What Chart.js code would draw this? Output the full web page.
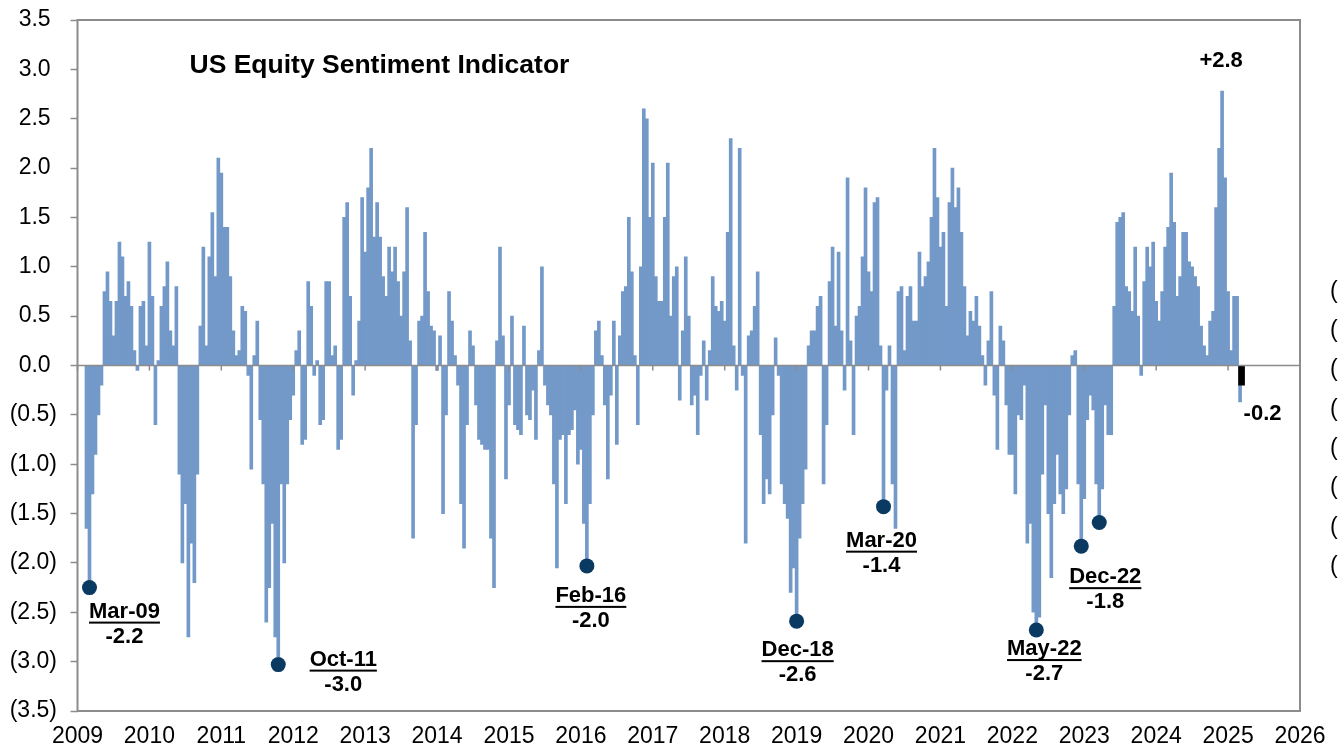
<!DOCTYPE html>
<html>
<head>
<meta charset="utf-8">
<title>US Equity Sentiment Indicator</title>
<script src="https://cdn.jsdelivr.net/npm/chart.js@4.4.1/dist/chart.umd.min.js"></script>
<style>
  html, body { margin: 0; padding: 0; background: #fff; }
  #wrap { width: 1338px; height: 750px; position: relative; }
</style>
</head>
<body>
<div id="wrap"><canvas id="chart"></canvas></div>
<script>
// indicator readings, two per month (1st half / 2nd half), one array per year
const v2009 = [null, null, null, -1.65, -2.2, -1.3, -0.9, -0.5, -0.2, 0.75, 0.95, 0.65, 0.3, 0.65, 1.25, 1.1, 0.7, 0.85, 0.6, 0.15, -0.05, 0.6, 0.65, 0.2];
const v2010 = [1.25, 0.7, -0.6, 0.05, 0.6, 0.8, 1.05, 0.35, 0.2, 0.8, -1.1, -2.0, -1.4, -2.75, -1.8, -2.2, -1.1, 0.4, 1.2, 0.2, 1.1, 1.55, 0.9, 2.1];
const v2011 = [1.95, 1.4, 1.4, 0.9, 0.35, 0.1, 0.15, 0.6, 0.55, -0.1, -1.05, 0.1, 0.45, -0.55, -1.2, -2.6, -2.25, -1.6, -2.75, -2.95, -1.2, -2.0, -1.2, -0.55];
const v2012 = [-0.3, 0.15, 0.35, -0.8, -0.75, 0.85, 0.6, -0.1, 0.05, -0.6, -0.55, 0.85, 0.85, 0.1, 0.2, -0.85, -0.75, 1.5, 1.65, 0.7, -0.3, 0.05, 0.45, 1.7];
const v2013 = [1.15, 1.8, 2.2, 1.3, 1.65, 1.3, 0.9, 0.7, 1.2, 0.95, 1.2, 0.85, 0.5, 0.95, 1.6, 0.25, -1.75, -0.6, 0.45, 0.5, 1.35, 0.75, 0.4, 0.35];
const v2014 = [-0.05, 0.3, -1.5, -0.5, 0.75, 0.45, 0.1, -0.2, -1.4, -1.85, -0.6, 0.35, 0.2, -0.4, -0.75, -0.8, -0.85, -0.85, -1.75, -2.25, 0.25, 1.2, 0.3, -1.15];
const v2015 = [-0.4, 0.5, -0.6, -0.65, -0.7, 0.4, -0.5, -0.55, -0.25, -0.75, 0.15, 1.0, -0.2, -0.4, -0.5, -1.2, -2.05, -0.75, -0.7, -1.4, -0.7, -0.65, -0.45, -1.0];
const v2016 = [-0.85, -1.6, -2.0, -1.4, -0.5, 0.35, 0.45, 0.1, -0.4, -1.15, -0.3, 0.45, -0.8, 0.3, 0.75, 0.8, 1.5, 0.95, 0.1, -0.6, 1.0, 2.6, 2.5, 1.5];
const v2017 = [2.05, 0.9, 0.65, 0.65, 1.5, 2.05, 0.5, 0.9, 1.0, -0.35, 0.35, 1.1, 0.5, -0.4, -0.3, -0.7, -0.1, 0.25, -0.35, 0.15, 0.9, 0.6, 0.55, 0.65];
const v2018 = [0.45, 1.35, 2.3, 0.2, -0.25, 2.2, -0.1, -1.8, 0.3, 0.35, 0.6, 0.95, -0.7, -1.4, -1.15, -1.3, -0.5, 0.28, -0.1, -1.2, -1.4, -1.55, -2.3, -2.05];
const v2019 = [-2.55, -1.75, -1.4, -1.05, 0.2, 0.35, 0.35, 0.6, 0.7, -1.2, -0.6, 0.85, 1.2, 0.4, 1.15, 0.35, -0.25, 1.9, 0.25, -0.7, 0.5, 0.6, 1.1, 1.8];
const v2020 = [0.95, 0.75, 1.65, 1.7, 0.2, -1.4, -0.25, 0.2, -1.2, -1.65, 0.75, 0.8, 0.15, 0.7, 0.8, 0.45, 0.45, 1.15, 0.8, 0.9, 1.05, 1.5, 2.2, 1.7];
const v2021 = [1.2, 1.35, 0.6, 1.65, 2.0, 1.6, 1.8, 1.35, 0.8, 0.3, 0.55, 0.45, 0.7, 0.4, 0.1, -0.2, 0.25, 0.75, -0.3, -0.85, 0.4, 0.25, -0.4, -0.9];
const v2022 = [-0.9, -1.3, -0.5, -0.55, -0.2, -1.8, -1.6, -2.5, -2.65, -2.55, -1.1, -0.4, -1.5, -2.15, -1.4, -0.9, -1.3, -1.5, -1.25, -0.5, 0.1, 0.15, -1.2, -1.8];
const v2023 = [-1.35, -0.55, -0.3, -0.45, -1.2, -1.55, -1.25, -0.4, -0.7, -0.7, 0.6, 1.45, 1.5, 1.55, 0.8, 0.75, 0.55, 1.2, 0.5, -0.1, 0.85, 1.2, 1.0, 1.25];
const v2024 = [0.65, 0.45, 0.75, 1.2, 1.4, 1.95, 1.45, 0.7, 0.9, 1.35, 1.35, 1.05, 1.0, 0.9, 0.8, 0.4, 0.2, 0.1, 0.45, 0.55, 1.6, 2.2, 2.78, 1.9];
const v2025 = [0.75, 0.15, 0.7, 0.7, -0.37];

const YEARS = [2009, 2010, 2011, 2012, 2013, 2014, 2015, 2016, 2017, 2018, 2019, 2020, 2021, 2022, 2023, 2024, 2025];
const YEAR_VALUES = [v2009, v2010, v2011, v2012, v2013, v2014, v2015, v2016, v2017, v2018, v2019, v2020, v2021, v2022, v2023, v2024, v2025];

// latest reading, highlighted in black
const LATEST_DATE = 2025 + 4.5 / 24;
const LATEST_VALUE = -0.2;
const PEAK_LABEL = '+2.8';
const LATEST_LABEL = '-0.2';

// marked lows
const LOW_NAMES  = ['Mar-09', 'Oct-11', 'Feb-16', 'Dec-18', 'Mar-20', 'May-22', 'Dec-22', ''];
const LOW_TEXT   = ['-2.2', '-3.0', '-2.0', '-2.6', '-1.4', '-2.7', '-1.8', ''];
const LOW_DATES  = [2009 + 4/24, 2011 + 19/24, 2016 + 2/24, 2019, 2020 + 5/24, 2022 + 8/24, 2022 + 23/24, 2023 + 5/24];
const LOW_VALUES = [-2.25, -3.03, -2.03, -2.59, -1.43, -2.68, -1.83, -1.59];

const Y_TICKS = [-3.5, -3, -2.5, -2, -1.5, -1, -0.5, 0, 0.5, 1, 1.5, 2, 2.5, 3, 3.5];

const BAR = '#7399c9';
const DOT = '#0a3962';
const FRAME = '#8c8c8c';
const FONT = "'Liberation Sans', Arial, sans-serif";

// label offsets (px) from each dot to the centre of its month label
const LOW_OFFSETS = [[35, 24], [65, -5], [4, 30], [1, 29], [-2, 34], [8, 19], [24, 31], null];

function buildSeries() {
  const pts = [];
  YEARS.forEach((yr, k) => {
    YEAR_VALUES[k].forEach((v, j) => {
      if (v !== null) pts.push({ x: yr + j / 24, y: v });
    });
  });
  return pts;
}

function fmtY(v) {
  const s = Math.abs(v).toFixed(1);
  return v < 0 ? '(' + s + ')' : s + ' ';
}

const decor = {
  id: 'decor',
  afterDatasetsDraw(chart) {
    const { ctx, chartArea: a, scales } = chart;
    const x = scales.x, y = scales.y;
    const y0 = y.getPixelForValue(0);
    ctx.save();
    ctx.strokeStyle = FRAME;
    ctx.lineWidth = 1.5;
    ctx.beginPath();
    ctx.moveTo(a.left, y0);
    ctx.lineTo(a.right, y0);
    x.ticks.forEach(t => {
      const px = x.getPixelForValue(t.value);
      ctx.moveTo(px, y0);
      ctx.lineTo(px, y0 + 5);
    });
    ctx.stroke();
    ctx.lineWidth = 2;
    ctx.strokeRect(a.left, a.top, a.right - a.left, a.bottom - a.top);
    ctx.restore();
  },
  afterDraw(chart) {
    const { ctx, chartArea: a, scales } = chart;
    const x = scales.x, y = scales.y;
    ctx.save();
    ctx.fillStyle = '#000';
    ctx.textBaseline = 'middle';

    ctx.font = 'bold 26.5px ' + FONT;
    ctx.textAlign = 'left';
    ctx.fillText('US Equity Sentiment Indicator', a.left + 112, a.top + 46);

    ctx.font = 'bold 22px ' + FONT;
    ctx.textAlign = 'center';
    LOW_NAMES.forEach((name, i) => {
      if (!name) return;
      const px = x.getPixelForValue(LOW_DATES[i]) + LOW_OFFSETS[i][0];
      const py = y.getPixelForValue(LOW_VALUES[i]) + LOW_OFFSETS[i][1];
      ctx.fillText(name, px, py);
      const w = ctx.measureText(name).width;
      ctx.fillRect(px - w / 2, py + 10, w, 2);
      ctx.fillText(LOW_TEXT[i], px, py + 25);
    });

    // peak and latest callouts
    let peak = null;
    chart.data.datasets[2].data.forEach(p => { if (!peak || p.y > peak.y) peak = p; });
    ctx.fillText(PEAK_LABEL, x.getPixelForValue(peak.x) - 1, y.getPixelForValue(peak.y) - 30);
    ctx.fillText(LATEST_LABEL, x.getPixelForValue(LATEST_DATE) + 21, y.getPixelForValue(LATEST_VALUE) + 29);

    // clipped labels of the neighbouring panel's axis
    ctx.font = '23px ' + FONT;
    ctx.textAlign = 'left';
    for (let k = 0; k < 8; k++) ctx.fillText('(', a.right + 30, y.getPixelForValue(0) - 74 + k * 39.3);
    ctx.restore();
  }
};

Chart.defaults.font.family = FONT;
Chart.defaults.font.size = 23;
Chart.defaults.color = '#000';

new Chart(document.getElementById('chart'), {
  type: 'bar',
  data: {
    datasets: [
      {
        type: 'scatter',
        data: LOW_DATES.map((d, i) => ({ x: d, y: LOW_VALUES[i] })),
        pointRadius: 7.5,
        pointBackgroundColor: DOT,
        pointBorderWidth: 0,
        order: 0
      },
      {
        data: [{ x: LATEST_DATE, y: LATEST_VALUE }],
        backgroundColor: '#000',
        barThickness: 6,
        grouped: false,
        order: 1
      },
      {
        data: buildSeries(),
        backgroundColor: BAR,
        barThickness: 3,
        grouped: false,
        order: 2
      }
    ]
  },
  options: {
    responsive: true,
    maintainAspectRatio: false,
    animation: false,
    layout: { padding: { left: 0, right: 38, top: 20, bottom: 0 } },
    plugins: { legend: { display: false }, tooltip: { enabled: false } },
    scales: {
      x: {
        type: 'linear',
        min: 2009,
        max: 2026,
        offset: false,
        border: { display: false },
        grid: { display: false, drawTicks: false },
        ticks: { stepSize: 1, padding: 12, maxRotation: 0, callback: v => String(v) },
        afterFit: s => { s.height = 39; }
      },
      y: {
        min: -3.5,
        max: 3.5,
        border: { display: false },
        grid: { drawOnChartArea: false, drawTicks: true, tickLength: 7, tickColor: FRAME, tickWidth: 1.5 },
        afterBuildTicks: s => { s.ticks = Y_TICKS.map(v => ({ value: v })); },
        ticks: { padding: 13.5, callback: v => fmtY(v) },
        afterFit: s => { s.width = 77.5; s.paddingTop = 0; s.paddingBottom = 0; }
      }
    }
  },
  plugins: [decor]
});
</script>
</body>
</html>
